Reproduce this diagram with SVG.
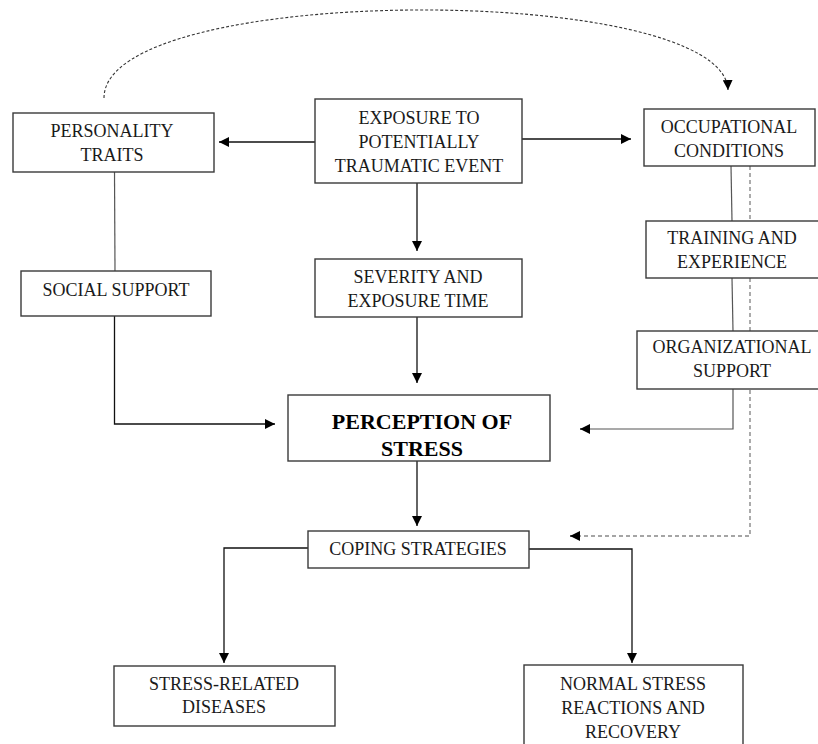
<svg xmlns="http://www.w3.org/2000/svg" width="818" height="744" viewBox="0 0 818 744">
<style>
.box{fill:#fff;stroke:#3a3a3a;stroke-width:1.4}
.t{font-family:"Liberation Serif","Times New Roman",serif;font-size:18px;fill:#1a1a1a;text-anchor:middle}
.b{font-weight:bold;font-size:22px;fill:#000}
.c{fill:none;stroke:#111;stroke-width:1.3}
.g{fill:none;stroke:#555;stroke-width:1.2}
.d{fill:none;stroke:#333;stroke-width:1.1;stroke-dasharray:3 2}
.dg{fill:none;stroke:#888;stroke-width:1.4;stroke-dasharray:4 3}
</style>
<defs>
<marker id="ah" viewBox="0 0 10 10" refX="10" refY="5" markerWidth="10" markerHeight="10" markerUnits="userSpaceOnUse" orient="auto">
<path d="M0,0 L10,5 L0,10 z" fill="#000"/>
</marker>
</defs>
<rect width="818" height="744" fill="#fff"/>
<g id="connectors">
<path class="d" d="M104,98 C104,-18 724,-18 728,90" marker-end="url(#ah)"/>
<path class="c" d="M315,142 H219" marker-end="url(#ah)"/>
<path class="c" d="M522,139 H631" marker-end="url(#ah)"/>
<path class="c" d="M417,183 V251" marker-end="url(#ah)"/>
<path class="c" d="M417,317 V383" marker-end="url(#ah)"/>
<path class="g" d="M114.5,172 L115,271"/>
<path class="c" d="M114.5,316 V424 H275" marker-end="url(#ah)"/>
<path class="g" d="M731,166 L732,221"/>
<path class="g" d="M732,278 L733,331"/>
<path class="g" d="M733,389 V429 H590"/>
<path class="c" d="M590,429 H580" marker-end="url(#ah)"/>
<path class="dg" d="M750,166 V536 H580"/>
<path class="c" d="M580,536 H570" marker-end="url(#ah)"/>
<path class="c" d="M417,461 V526" marker-end="url(#ah)"/>
<path class="c" d="M308,548 H224 V663" marker-end="url(#ah)"/>
<path class="c" d="M529,549 H632 V663" marker-end="url(#ah)"/>
</g>
<g id="personality">
<rect class="box" x="13" y="113" width="201" height="59"/>
<text class="t" x="112" y="137">PERSONALITY</text>
<text class="t" x="112" y="161">TRAITS</text>
</g>
<g id="exposure">
<rect class="box" x="315" y="99" width="207" height="84"/>
<text class="t" x="419" y="124">EXPOSURE TO</text>
<text class="t" x="419" y="148">POTENTIALLY</text>
<text class="t" x="419" y="172">TRAUMATIC EVENT</text>
</g>
<g id="occupational">
<rect class="box" x="644" y="109" width="171" height="57"/>
<text class="t" x="729" y="133">OCCUPATIONAL</text>
<text class="t" x="729" y="157">CONDITIONS</text>
</g>
<g id="social">
<rect class="box" x="21" y="271" width="190" height="45"/>
<text class="t" x="116" y="296">SOCIAL SUPPORT</text>
</g>
<g id="severity">
<rect class="box" x="315" y="259" width="207" height="58"/>
<text class="t" x="418" y="283">SEVERITY AND</text>
<text class="t" x="418" y="307">EXPOSURE TIME</text>
</g>
<g id="training">
<rect class="box" x="646" y="221" width="175" height="57"/>
<text class="t" x="732" y="244">TRAINING AND</text>
<text class="t" x="732" y="268">EXPERIENCE</text>
</g>
<g id="organizational">
<rect class="box" x="637" y="331" width="184" height="58"/>
<text class="t" x="732" y="353">ORGANIZATIONAL</text>
<text class="t" x="732" y="377">SUPPORT</text>
</g>
<g id="perception">
<rect class="box" x="288" y="395" width="262" height="66"/>
<text class="t b" x="422" y="429">PERCEPTION OF</text>
<text class="t b" x="422" y="456">STRESS</text>
</g>
<g id="coping">
<rect class="box" x="308" y="531" width="221" height="37"/>
<text class="t" x="418" y="555">COPING STRATEGIES</text>
</g>
<g id="stressrelated">
<rect class="box" x="114" y="666" width="221" height="60"/>
<text class="t" x="224" y="690">STRESS-RELATED</text>
<text class="t" x="224" y="713">DISEASES</text>
</g>
<g id="normal">
<rect class="box" x="524" y="665" width="219" height="90"/>
<text class="t" x="633" y="690">NORMAL STRESS</text>
<text class="t" x="633" y="714">REACTIONS AND</text>
<text class="t" x="633" y="738">RECOVERY</text>
</g>
</svg>
